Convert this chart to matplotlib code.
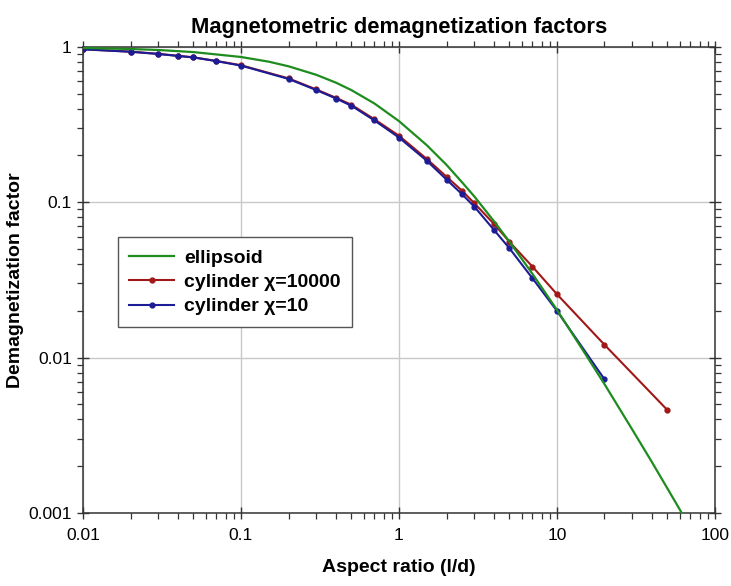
import matplotlib
matplotlib.use("Agg")
import matplotlib.pyplot as plt
from matplotlib.ticker import FixedLocator, FixedFormatter, LogLocator, NullFormatter

plt.rcParams['font.family'] = ['Liberation Sans', 'DejaVu Sans']

# ellipsoid curve
ell_x = [0.01, 0.02, 0.03, 0.05, 0.1, 0.15, 0.2, 0.3, 0.4, 0.5, 0.7, 1.0,
         1.5, 2.0, 2.5, 3.0, 4.0, 5.0, 7.0, 10.0, 15.0, 20.0, 30.0, 40.0, 50.0, 60.0, 62.0]
ell_y = [0.984, 0.969, 0.955, 0.926, 0.861, 0.803, 0.750, 0.661, 0.588, 0.527, 0.432, 0.333,
         0.233, 0.174, 0.135, 0.109, 0.0754, 0.0558, 0.0346, 0.0203, 0.0107, 0.00675,
         0.00344, 0.00212, 0.00144, 0.00105, 0.00099]

# cylinders, points
cyl_x = [0.01, 0.02, 0.03, 0.04, 0.05, 0.07, 0.1, 0.2, 0.3, 0.4, 0.5, 0.7, 1.0,
         1.5, 2.0, 2.5, 3.0, 4.0, 5.0, 7.0, 10.0, 20.0, 50.0]
cyl_hi = [0.966, 0.932, 0.902, 0.876, 0.857, 0.812, 0.762, 0.627, 0.532, 0.470, 0.424, 0.342, 0.268,
          0.190, 0.146, 0.119, 0.0986, 0.0724, 0.0557, 0.0385, 0.0256, 0.0121, 0.0046]
cyl_lo = [0.964, 0.930, 0.900, 0.874, 0.855, 0.809, 0.758, 0.622, 0.527, 0.465, 0.418, 0.336, 0.261,
          0.185, 0.140, 0.113, 0.0937, 0.0663, 0.0506, 0.0324, 0.0200, 0.00725]

fig = plt.figure(figsize=(7.31, 5.86), dpi=100)
ax = fig.add_axes([0.1135, 0.1246, 0.8645, 0.7954])

ax.plot(ell_x, ell_y, color='#1e8c1e', lw=1.6, label='ellipsoid', zorder=4)
ax.plot(cyl_x, cyl_hi, color='#a01818', lw=1.5, marker='o', ms=3.5,
        label='cylinder χ=10000', zorder=3)
ax.plot(cyl_x[:len(cyl_lo)], cyl_lo, color='#1c1c96', lw=1.5, marker='o', ms=3.5,
        label='cylinder χ=10', zorder=3)

ax.set_xscale('log')
ax.set_yscale('log')
ax.set_xlim(0.01, 100)
ax.set_ylim(0.001, 1)

xt = [0.01, 0.1, 1, 10, 100]
yt = [0.001, 0.01, 0.1, 1]
ax.xaxis.set_major_locator(FixedLocator(xt))
ax.xaxis.set_major_formatter(FixedFormatter(['0.01', '0.1', '1', '10', '100']))
ax.yaxis.set_major_locator(FixedLocator(yt))
ax.yaxis.set_major_formatter(FixedFormatter(['0.001', '0.01', '0.1', '1']))
ax.xaxis.set_minor_locator(LogLocator(base=10, subs=range(2, 10), numticks=20))
ax.yaxis.set_minor_locator(LogLocator(base=10, subs=range(2, 10), numticks=20))
ax.xaxis.set_minor_formatter(NullFormatter())
ax.yaxis.set_minor_formatter(NullFormatter())

ax.tick_params(which='major', direction='inout', length=9, width=1, labelsize=12.5,
               top=True, right=True, color='#333333')
ax.tick_params(which='minor', direction='out', length=4, width=0.9,
               top=True, right=True, color='#333333')
ax.tick_params(axis='x', pad=6)

ax.grid(True, which='major', color='#c8c8c8', lw=1)
for s in ax.spines.values():
    s.set_color('#333333')
    s.set_linewidth(1.1)

ax.set_title('Magnetometric demagnetization factors', fontsize=15.8, fontweight='bold', pad=10)
ax.set_xlabel('Aspect ratio (l/d)', fontsize=14, fontweight='bold', labelpad=12)
ax.set_ylabel('Demagnetization factor', fontsize=14, fontweight='bold', labelpad=3)

leg = ax.legend(loc='lower left', bbox_to_anchor=(0.055, 0.399), fancybox=False,
                framealpha=1, edgecolor='#555555', handlelength=2.3, handletextpad=0.5,
                prop={'weight': 'bold', 'size': 14}, borderpad=0.6, labelspacing=0.35,
                borderaxespad=0)
leg.get_frame().set_linewidth(1.0)

fig.savefig('out.png', dpi=100)
